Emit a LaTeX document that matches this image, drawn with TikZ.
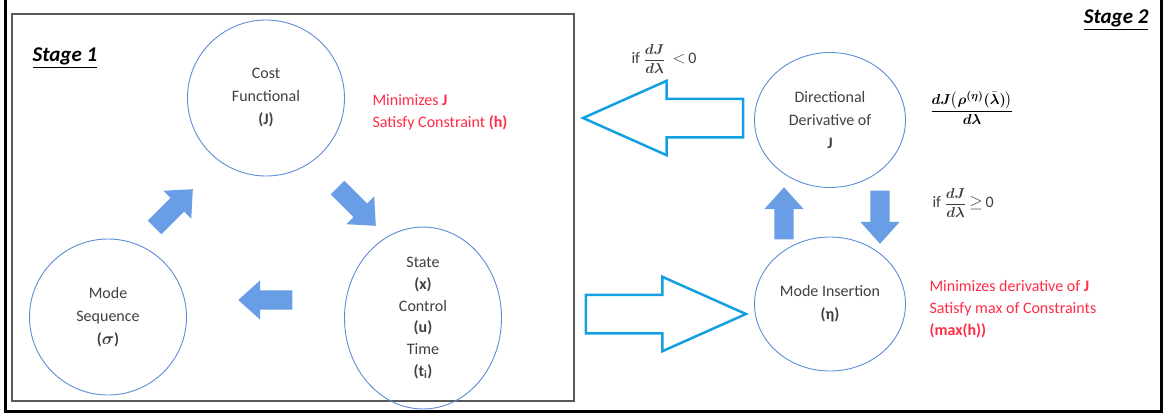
\documentclass[tikz,border=0pt]{standalone}
\usepackage{fontspec}
\setmainfont{Carlito}
\usepackage{amsmath, bm}
\usetikzlibrary{shapes.geometric, shapes.arrows}
\definecolor{ringblue}{RGB}{95,140,215}
\definecolor{fillblue}{RGB}{105,158,230}
\definecolor{lineblue}{RGB}{18,160,226}
\definecolor{notered}{RGB}{255,45,70}
\definecolor{bodytext}{RGB}{64,64,64}
\newcommand{\dJ}{\dfrac{\bm{dJ}}{\bm{d\lambda}}}

\begin{document}
\begin{tikzpicture}[x=1pt, y=-1pt,
    ring/.style={ellipse, draw=ringblue, line width=0.9pt, minimum width=157pt,
      minimum height=156pt, align=center, text=bodytext,
      font=\fontsize{16}{23}\selectfont},
    fillarrow/.style={single arrow, fill=fillblue, draw=none, inner xsep=0pt,
      inner ysep=9.5pt, minimum height=54pt, minimum width=39pt,
      single arrow head extend=10pt, single arrow tip angle=84, anchor=tip},
    openarrow/.style={single arrow, draw=lineblue, line width=2.5pt, fill=none,
      inner xsep=0pt, inner ysep=18pt, minimum height=160pt, minimum width=72pt,
      single arrow head extend=18pt, single arrow tip angle=48, anchor=tip},
    note/.style={anchor=west, align=left, text=notered,
      font=\fontsize{16}{22}\selectfont},
    cond/.style={anchor=west, text=bodytext, font=\fontsize{16}{20}\selectfont},
    stage/.style={font=\fontsize{21}{24}\selectfont\bfseries\itshape}]
  \useasboundingbox (0,0) rectangle (1167,416);
  \fill[white] (0,0) rectangle (1167,416);

  % frames
  \draw[line width=3pt] (5,0) -- (5,411) -- (1161,411) -- (1161,0);
  \draw[line width=1.2pt, black!65] (12,14) rectangle (574,401);
  \node[stage, anchor=west] (s1) at (29,58) {\underline{Stage 1}};
  \node[stage, anchor=east] (s2) at (1152,20) {\underline{Stage 2}};

  % stage 1 loop
  \node[ring] (cost) at (266,98) {Cost\\Functional\\\textbf{(J)}};
  \node[ring] (seq) at (108,317) {Mode\\Sequence\\\textbf{(}$\bm{\sigma}$\textbf{)}};
  \node[ring, font=\fontsize{16}{21.8}\selectfont] (state) at (423,318)
    {State\\\textbf{(x)}\\Control\\\textbf{(u)}\\Time\\\textbf{(t\textsubscript{i})}};
  \node[fillarrow, rotate=45] (a1) at (193,189) {};
  \node[fillarrow, rotate=-45] (a2) at (376,226) {};
  \node[fillarrow, rotate=180] (a3) at (238,300) {};
  \node[note] (n1) at (369,112) {Minimizes \textbf{J}\\Satisfy Constraint \textbf{(h)}};

  % stage 2
  \node[ring, minimum width=151pt, minimum height=135pt] (dir) at (830,120)
    {Directional\\Derivative of\\\textbf{J}};
  \node[ring, minimum width=151pt, minimum height=134pt] (ins) at (830,304)
    {Mode Insertion\\\textbf{(η)}};
  \node[fillarrow, rotate=90, minimum height=52pt] (up) at (784,187) {};
  \node[fillarrow, rotate=-90, minimum height=53pt] (down) at (880,244) {};
  \node[openarrow, rotate=180] (back) at (580,118) {};
  \node[openarrow] (fwd) at (749,314) {};
  \node[note] (n2) at (926,309)
    {Minimizes derivative of \textbf{J}\\Satisfy max of Constraints\\\textbf{(max(h))}};

  % conditions
  \node[cond] (lt) at (628,59) {if {\fontsize{14}{15}\selectfont$\dJ$}\ \ $<$\,0};
  \node[cond] (ge) at (929,203) {if {\fontsize{14}{15}\selectfont$\dJ$}$\,\geq\,$0};
  \node[anchor=center, font=\fontsize{15}{16}\selectfont] (dd) at (972,108)
    {$\dfrac{\bm{dJ\bigl(\rho^{(\eta)}(\bar{\lambda})\bigr)}}{\bm{d\lambda}}$};
\end{tikzpicture}
\end{document}
